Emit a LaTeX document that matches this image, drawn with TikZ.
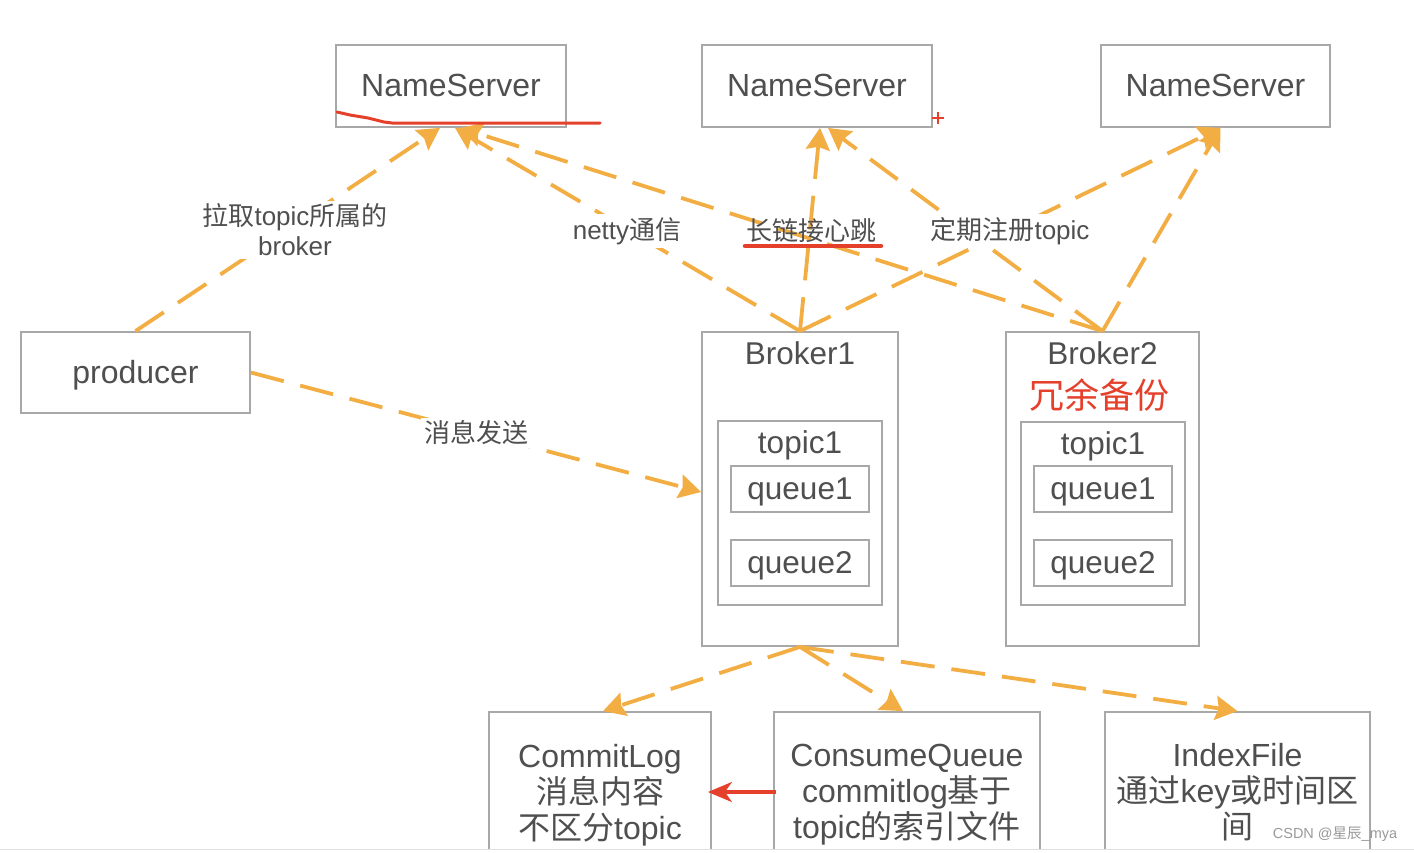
\documentclass[tikz,border=0pt]{standalone}
\usepackage{fontspec}
\setmainfont{Liberation Sans}
\newfontfamily\cjk{Noto Sans CJK SC}
\usetikzlibrary{arrows.meta}
\newcommand\zh[1]{{\cjk #1}}
\definecolor{orange1}{HTML}{F3AE43}
\definecolor{boxgray}{HTML}{A8A8A8}
\definecolor{txtgray}{HTML}{4F4F4F}
\definecolor{redmark}{HTML}{E5402B}
\definecolor{wmgray}{HTML}{9A9A9A}
\begin{document}
\begin{tikzpicture}[x=1pt,y=-1pt,
  box/.style={draw=boxgray, line width=1.8pt, inner sep=0pt, text=txtgray, align=center},
  one/.style={text height=24.6pt, text depth=3.2pt},
  big/.style={font=\fontsize{32}{36}\selectfont},
  mid/.style={font=\fontsize{31.5}{36}\selectfont},
  plain/.style={text=txtgray, inner sep=0pt, align=center},
  lab/.style={text=txtgray, font=\fontsize{26}{30}\selectfont, inner sep=3pt, align=center},
  arr/.style={draw=orange1, line width=3.8pt, dash pattern=on 34pt off 17pt, -{Stealth[length=22pt,width=24pt,inset=3pt]}},
  redline/.style={draw=redmark, line width=3pt, line cap=round, line join=round}
]
\useasboundingbox[fill=white] (0,0) rectangle (1414,852);

% NameServers
\node[box,big,one,minimum width=230pt,minimum height=82pt] (ns1) at (451,86) {NameServer};
\node[box,big,one,minimum width=230pt,minimum height=82pt] (ns2) at (817,86) {NameServer};
\node[box,big,one,minimum width=229pt,minimum height=82pt] (ns3) at (1215.5,86) {NameServer};

% producer
\node[box,big,one,minimum width=229pt,minimum height=81pt] (prod) at (135.5,372.5) {producer};

% Broker1
\node[box,minimum width=196pt,minimum height=314pt] (b1) at (800,489) {};
\node[plain,mid,one] (b1t) at (800,354) {Broker1};
\node[box,minimum width=164pt,minimum height=184pt] (t1) at (800,513) {};
\node[plain,mid,one] (t1t) at (800,443) {topic1};
\node[box,mid,one,minimum width=138pt,minimum height=46pt] (q11) at (800,489) {queue1};
\node[box,mid,one,minimum width=138pt,minimum height=46pt] (q12) at (800,563) {queue2};

% Broker2
\node[box,minimum width=193pt,minimum height=314pt] (b2) at (1102.5,489) {};
\node[plain,mid,one] (b2t) at (1102.5,354) {Broker2};
\node[inner sep=0pt,text=redmark,font=\cjk\fontsize{35}{40}\selectfont] (b2r) at (1099,395) {冗余备份};
\node[box,minimum width=164pt,minimum height=183pt] (t2) at (1103,513.5) {};
\node[plain,mid,one] (t2t) at (1103,444) {topic1};
\node[box,mid,one,minimum width=138pt,minimum height=46pt] (q21) at (1103,489) {queue1};
\node[box,mid,one,minimum width=138pt,minimum height=46pt] (q22) at (1103,563) {queue2};

% bottom boxes (cut off at the bottom)
\begin{scope}
\clip (0,0) rectangle (1414,848);
\node[box,minimum width=222pt,minimum height=160pt] (cl) at (600,792) {};
\node[box,minimum width=266pt,minimum height=160pt] (cq) at (907,792) {};
\node[box,minimum width=265pt,minimum height=160pt] (idx) at (1237.5,792) {};
\node[plain,big] (clt) at (600,795) {CommitLog\\\zh{消息内容}\\\zh{不区分}topic};
\node[plain,big] (cqt) at (907,794.5) {ConsumeQueue\\commitlog\zh{基于}\\topic\zh{的索引文件}};
\node[plain,big] (idxt) at (1237.5,792) {IndexFile\\\zh{通过}key\zh{或时间区}\\\zh{间}};
\end{scope}
\draw[draw=black!12, line width=1pt] (0,849) -- (1414,849);

% dashed connectors
\draw[arr] (prod.north) -- ([xshift=-11pt]ns1.south);
\draw[arr] (prod.east) -- ([yshift=-3pt]b1.west);
\draw[arr] (b1.north) -- ([xshift=4pt]ns1.south);
\draw[arr] (b1.north) -- ([xshift=3pt]ns2.south);
\draw[arr] (b1.north) -- ([xshift=5pt]ns3.south);
\draw[arr] (b2.north) -- ([xshift=9pt]ns1.south);
\draw[arr] (b2.north) -- ([xshift=11pt]ns2.south);
\draw[arr] (b2.north) -- ([xshift=5pt]ns3.south);
\draw[arr] (b1.south) -- ([xshift=3pt]cl.north);
\draw[arr] (b1.south) -- ([xshift=-4pt]cq.north);
\draw[arr] (b1.south) -- (idx.north);

% labels
\node[lab,fill=white] (l1) at (295,230) {\zh{拉取}topic\zh{所属的}\\broker};
\node[lab,fill=white] (l2) at (627,231) {netty\zh{通信}};
\node[lab] (l3) at (811,231) {\zh{长链接心跳}};
\node[lab,fill=white] (l4) at (1010,231) {\zh{定期注册}topic};
\node[lab,fill=white] (l5) at (476,433) {\zh{消息发送}};

% red annotations
\draw[redline] (337,112) -- (350,115) -- (368,118) -- (384,122) -- (392,123) -- (600,123);
\draw[draw=redmark, line width=2pt] (932,118) -- (944,118) (938,112) -- (938,124);
\draw[draw=redmark, line width=4.5pt, line cap=round] ([xshift=-66pt,yshift=-15pt]l3.center) -- ([xshift=70pt,yshift=-15pt]l3.center);
\draw[draw=redmark, line width=3.2pt, -{Stealth[length=24pt,width=20pt,inset=7pt]}] ([xshift=3pt]cq.west) -- ([xshift=-4pt]cl.east);

% watermark
\node[text=wmgray, inner sep=0pt, font=\fontsize{14.5}{16}\selectfont] (wm) at (1335,834) {CSDN @\zh{星辰}\_mya};
\end{tikzpicture}
\end{document}
